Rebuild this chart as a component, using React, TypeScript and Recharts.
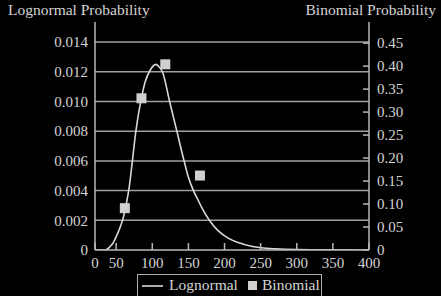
import React from 'react';
import { ComposedChart, Line, Scatter, XAxis, YAxis, CartesianGrid } from 'recharts';

const lognormalX = [21, 35, 41, 46, 51, 56, 60, 64, 68, 72, 77, 84, 90, 97, 105, 110, 114, 124, 134, 144, 150, 157, 163, 168, 179, 191, 205, 219, 237, 251, 270, 300, 350, 400];
const lognormalY = [0, 0, 0.0002, 0.0005, 0.001, 0.0016, 0.0022, 0.0031, 0.0042, 0.0058, 0.0079, 0.01, 0.0113, 0.0121, 0.0125, 0.0123, 0.012, 0.01, 0.008, 0.006, 0.0049, 0.004, 0.0034, 0.0029, 0.002, 0.0013, 0.0008, 0.0005, 0.00025, 0.00015, 0.00008, 0.00003, 0.00001, 0];

const binomialX = [62, 85, 118, 166];
const binomialY = [0.091, 0.33, 0.404, 0.162];

const xTickValues = [20.7, 50, 100, 150, 200, 250, 300, 350, 400];
const xTickLabels = ['0', '50', '100', '150', '200', '250', '300', '350', '400'];
const leftTicks = [0, 0.002, 0.004, 0.006, 0.008, 0.01, 0.012, 0.014];
const leftTickLabels = ['0', '0.002', '0.004', '0.006', '0.008', '0.010', '0.012', '0.014'];
const rightTicks = [0, 0.05, 0.1, 0.15, 0.2, 0.25, 0.3, 0.35, 0.4, 0.45];
const rightTickLabels = ['0', '0.05', '0.10', '0.15', '0.20', '0.25', '0.30', '0.35', '0.40', '0.45'];

const lognormalData = lognormalX.map((x, i) => ({ x, y: lognormalY[i] }));
const binomialData = binomialX.map((x, i) => ({ x, p: binomialY[i] }));

const FONT = '"Liberation Serif", serif';
const TEXT = '#d4d4d4';
const AXIS = '#b8b8b8';
const GRID = '#a0a0a0';

const Square = (props: any) => {
  const { cx, cy } = props;
  if (cx == null || cy == null) return null;
  return <rect x={cx - 5} y={cy - 5} width={10} height={10} fill="#cfcfcf" />;
};

const tickStyle = { fill: TEXT, fontSize: 15, fontFamily: FONT };

export default function App() {
  return (
    <div style={{ position: 'fixed', left: 0, top: 0, width: 441, height: 296, background: '#000', overflow: 'hidden', fontFamily: FONT, color: TEXT }}>
      <div style={{ position: 'absolute', left: 8, top: 1, fontSize: 15.5, whiteSpace: 'nowrap' }}>Lognormal Probability</div>
      <div style={{ position: 'absolute', right: 5, top: 1, fontSize: 15.5, whiteSpace: 'nowrap' }}>Binomial Probability</div>
      <ComposedChart width={441} height={296} margin={{ top: 22, right: 0, bottom: 16, left: 0 }}>
        <CartesianGrid yAxisId="left" vertical={false} horizontal={true} stroke={GRID} strokeWidth={1.5} horizontalValues={leftTicks.slice(1)} />
        <XAxis
          dataKey="x"
          type="number"
          domain={[20.7, 400]}
          ticks={xTickValues}
          allowDataOverflow
          height={30}
          tickSize={-7}
          tickMargin={14}
          stroke={AXIS}
          strokeWidth={1.5}
          tick={tickStyle}
          tickFormatter={(v: number) => xTickLabels[xTickValues.indexOf(v)] ?? String(v)}
          interval={0}
        />
        <YAxis
          yAxisId="left"
          orientation="left"
          width={95}
          domain={[0, 0.01535]}
          ticks={leftTicks}
          allowDataOverflow
          tickLine={false}
          tickSize={0}
          tickMargin={7}
          stroke={AXIS}
          strokeWidth={1.5}
          tick={tickStyle}
          tickFormatter={(v: number) => leftTickLabels[leftTicks.indexOf(v)] ?? String(v)}
          interval={0}
        />
        <YAxis
          yAxisId="right"
          orientation="right"
          width={72}
          domain={[0, 0.496]}
          ticks={rightTicks}
          allowDataOverflow
          tickSize={-6}
          tickMargin={14}
          stroke={AXIS}
          strokeWidth={1.5}
          tick={tickStyle}
          tickFormatter={(v: number) => rightTickLabels[rightTicks.indexOf(v)] ?? String(v)}
          interval={0}
        />
        <Line
          yAxisId="left"
          data={lognormalData}
          dataKey="y"
          type="monotone"
          stroke="#d8d8d8"
          strokeWidth={1.6}
          dot={false}
          isAnimationActive={false}
        />
        <Scatter
          yAxisId="right"
          data={binomialData}
          dataKey="p"
          shape={Square}
          isAnimationActive={false}
        />
      </ComposedChart>
      <div style={{ position: 'absolute', left: 137, top: 274, width: 185, height: 30, border: '1.5px solid #b0b0b0', boxSizing: 'border-box' }}>
        <svg width={22} height={10} style={{ position: 'absolute', left: 4, top: 6 }}>
          <line x1={0} y1={5} x2={21} y2={5} stroke="#d8d8d8" strokeWidth={1.6} />
        </svg>
        <div style={{ position: 'absolute', left: 31, top: 1, fontSize: 15.5, whiteSpace: 'nowrap' }}>Lognormal</div>
        <svg width={10} height={10} style={{ position: 'absolute', left: 110, top: 6 }}>
          <rect x={0} y={0} width={9} height={9} fill="#cfcfcf" />
        </svg>
        <div style={{ position: 'absolute', left: 124, top: 1, fontSize: 15.5, whiteSpace: 'nowrap' }}>Binomial</div>
      </div>
    </div>
  );
}
